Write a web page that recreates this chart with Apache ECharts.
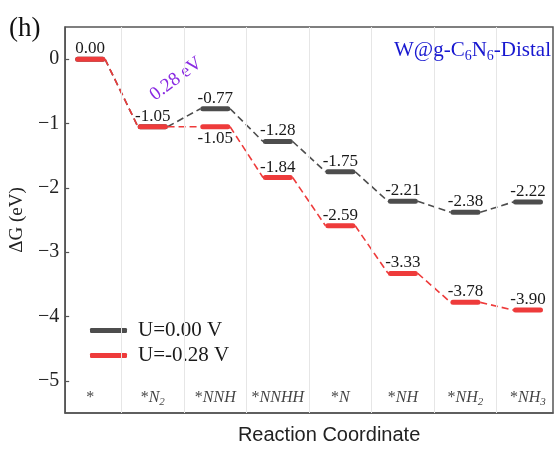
<!DOCTYPE html>
<html>
<head>
<meta charset="utf-8">
<script src="https://cdn.jsdelivr.net/npm/echarts@6.0.0/dist/echarts.min.js"></script>
<style>
html,body{margin:0;padding:0;background:#fff;}
#chart{width:555px;height:450px;}
</style>
</head>
<body>
<div id="chart"></div>
<script>
// ---- data ----
const categories = ['*', '*N2', '*NNH', '*NNHH', '*N', '*NH', '*NH2', '*NH3'];
const seriesNames = ['U=0.00 V', 'U=-0.28 V'];
const valuesU0 = [0.00, -1.05, -0.77, -1.28, -1.75, -2.21, -2.38, -2.22];
const valuesU028 = [0.00, -1.05, -1.05, -1.84, -2.59, -3.33, -3.78, -3.90];
const yTicks = [0, -1, -2, -3, -4, -5];

// ---- style ----
const SERIF = '"Liberation Serif", "Times New Roman", serif';
const SANS = '"Liberation Sans", Arial, sans-serif';
const GRAY = '#4d4d4d';
const RED = '#ee3b3b';
const HALF = 0.2;      // half bar length (data units), round caps add a bit
const GAP = 0.237;     // visual half length incl. caps

function richCat(s) {
  let out = '';
  for (const ch of s) {
    if (ch === '*') out += '{a|*}';
    else if (/[0-9]/.test(ch)) out += '{s|' + ch + '}';
    else out += '{i|' + ch + '}';
  }
  return out;
}

function makeSeries(name, vals, other, color, z, isRed) {
  return {
    type: 'custom',
    name: name,
    z: z,
    silent: true,
    itemStyle: { color: color },
    data: vals.map((v, i) => [i + 1, v]),
    encode: { x: 0, y: 1 },
    renderItem: function (params, api) {
      const i = params.dataIndex;
      const x = api.value(0), y = api.value(1);
      const p1 = api.coord([x - HALF, y]);
      const p2 = api.coord([x + HALF, y]);
      const children = [];
      if (i < vals.length - 1) {
        const a = api.coord([x + GAP, y]);
        const b = api.coord([x + 1 - GAP, vals[i + 1]]);
        children.push({
          type: 'line',
          shape: { x1: a[0], y1: a[1], x2: b[0], y2: b[1] },
          style: { stroke: color, lineWidth: 1.6, lineDash: [7, 4] }
        });
      }
      children.push({
        type: 'line',
        shape: { x1: p1[0], y1: p1[1], x2: p2[0], y2: p2[1] },
        style: { stroke: color, lineWidth: 5, lineCap: 'round' }
      });
      const c = api.coord([x, y]);
      const same = Math.abs(other[i] - y) < 1e-9;
      if (!(same && !isRed)) {
        const below = isRed && other[i] > y && (other[i] - y) < 0.5;
        children.push({
          type: 'text',
          x: c[0],
          y: below ? c[1] + 3 : c[1] - 2,
          style: {
            text: y.toFixed(2),
            font: '17px ' + SERIF,
            fill: '#1a1a1a',
            align: 'center',
            verticalAlign: below ? 'top' : 'bottom'
          }
        });
      }
      return { type: 'group', children: children };
    }
  };
}

const chart = echarts.init(document.getElementById('chart'), null, { renderer: 'canvas' });

const option = {
  animation: false,
  backgroundColor: '#ffffff',
  grid: { left: 60, right: 2, top: 27, bottom: 35, show: true, borderColor: '#555', borderWidth: 1.5, backgroundColor: 'transparent' },
  title: {
    text: 'W@g-C{s|6}N{s|6}-Distal',
    right: 4,
    top: 37,
    padding: 0,
    textStyle: {
      fontFamily: SERIF, fontSize: 21, fontWeight: 'normal', color: '#1818d0', lineHeight: 26,
      rich: { s: { fontFamily: SERIF, fontSize: 14, color: '#1818d0', lineHeight: 14, verticalAlign: 'bottom' } }
    }
  },
  legend: {
    orient: 'vertical',
    left: 90,
    top: 320,
    padding: 0,
    itemWidth: 37,
    itemHeight: 5,
    itemGap: 4,
    icon: 'roundRect',
    data: seriesNames,
    textStyle: { fontFamily: SERIF, fontSize: 21, color: '#1a1a1a', padding: [0, 0, 0, 6] }
  },
  xAxis: {
    type: 'value',
    min: 0.6,
    max: 8.4,
    name: 'Reaction Coordinate',
    nameLocation: 'middle',
    nameGap: 12,
    nameTextStyle: { fontFamily: SANS, fontSize: 20, color: '#222', padding: [0, 0, 0, 40] },
    axisLine: { show: true, onZero: false, lineStyle: { color: '#555', width: 1.5 } },
    axisTick: { show: false },
    axisLabel: { show: false },
    splitLine: { show: false }
  },
  yAxis: {
    type: 'value',
    min: -5.5,
    max: 0.5,
    interval: 0.5,
    name: 'ΔG (eV)',
    nameLocation: 'middle',
    nameGap: 25,
    nameTextStyle: { fontFamily: SERIF, fontSize: 19, color: '#222' },
    axisLine: { show: true, onZero: false, lineStyle: { color: '#555', width: 1.5 } },
    axisTick: { show: true, inside: true, length: 4, customValues: yTicks, lineStyle: { color: '#555', width: 1.2 } },
    axisLabel: {
      customValues: yTicks,
      margin: 6,
      fontFamily: SERIF, fontSize: 20, color: '#222',
      formatter: v => (v < 0 ? '\u2212' + Math.abs(v) : String(v))
    },
    splitLine: { show: false }
  },
  graphic: [
    { type: 'text', left: 9, top: 15, style: { text: '(h)', font: '27px ' + SERIF, fill: '#111' } },
    { type: 'text', x: 176, y: 79, rotation: 37 * Math.PI / 180,
      style: { text: '0.28 eV', font: '19px ' + SERIF, fill: '#8a2be2', align: 'center', verticalAlign: 'middle' } }
  ],
  series: [
    {
      type: 'scatter',
      name: 'categories',
      z: 1,
      silent: true,
      symbolSize: 0,
      data: categories.map((c, i) => [i + 1, -5.26]),
      label: {
        show: true,
        position: 'inside',
        formatter: p => richCat(categories[p.dataIndex]),
        rich: {
          a: { fontFamily: SERIF, fontSize: 16, color: '#111', lineHeight: 20 },
          i: { fontFamily: SERIF, fontSize: 16, fontStyle: 'italic', color: '#111', lineHeight: 20 },
          s: { fontFamily: SERIF, fontSize: 11, fontStyle: 'italic', color: '#111', lineHeight: 11, verticalAlign: 'bottom' }
        }
      },
      markLine: {
        silent: true,
        symbol: 'none',
        label: { show: false },
        lineStyle: { color: '#e6e6e6', width: 1, type: 'solid' },
        data: categories.slice(1).map((c, i) => ({ xAxis: i + 1.5 }))
      }
    },
    makeSeries(seriesNames[0], valuesU0, valuesU028, GRAY, 2, false),
    makeSeries(seriesNames[1], valuesU028, valuesU0, RED, 3, true)
  ]
};

chart.setOption(option);
</script>
</body>
</html>
